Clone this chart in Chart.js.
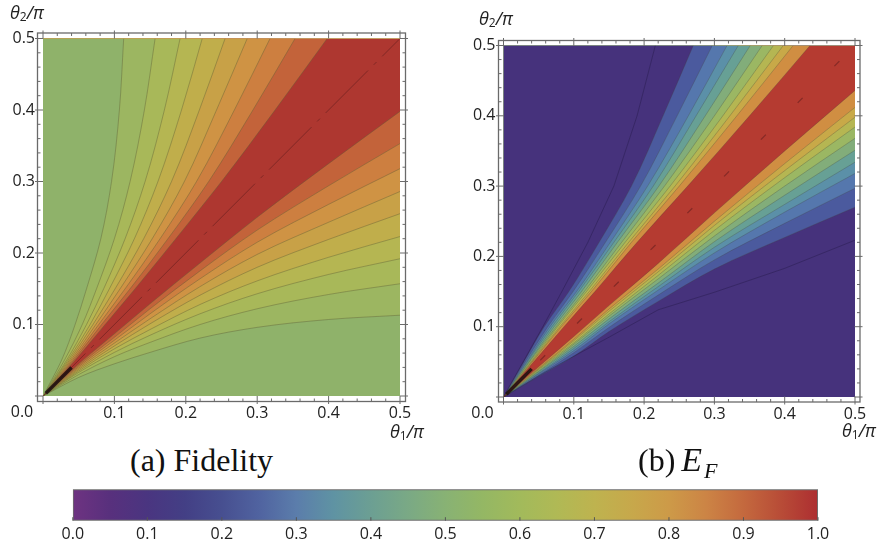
<!DOCTYPE html>
<html>
<head>
<meta charset="utf-8">
<script src="https://cdn.jsdelivr.net/npm/chart.js@4.4.1/dist/chart.umd.min.js"></script>
<style>
  body { margin: 0; background: #fff; }
  #page { position: relative; width: 881px; height: 546px; overflow: hidden; }
  canvas { position: absolute; }
  .ax { position: absolute; font: italic 18px "Open Sans"; line-height: 18px; color: #222; white-space: nowrap; }
  .ax sub { font-style: normal; font-size: 12px; vertical-align: -2px; line-height: 0; }
  .cap { position: absolute; font: 32px "Liberation Serif"; line-height: 32px; color: #111; white-space: nowrap; }
  .cap i { margin-left: 6px; font-size: 34px; }
  .cap sub { font-size: 22px; vertical-align: -7px; line-height: 0; font-style: italic; margin-left: 2px; }
</style>
</head>
<body>
<div id="page">
  <canvas id="fid" width="440" height="425" style="left:0px;top:0px"></canvas>
  <canvas id="ent" width="441" height="425" style="left:440px;top:0px"></canvas>
  <canvas id="bar" width="881" height="66" style="left:0px;top:480px"></canvas>
  <div class="ax" style="left:10px;top:3px">θ<sub>2</sub>/π</div>
  <div class="ax" style="left:390px;top:422px">θ<sub>1</sub>/π</div>
  <div class="ax" style="left:479px;top:9px">θ<sub>2</sub>/π</div>
  <div class="ax" style="left:842px;top:421px">θ<sub>1</sub>/π</div>
  <div class="cap" style="left:130px;top:444px">(a) Fidelity</div>
  <div class="cap" style="left:638px;top:444px">(b)<i>E</i><sub>F</sub></div>
</div>
<script>
// heights (upper-left contours) / widths (lower-right contours) where the contours are read
const steps = [0, 0.05, 0.1, 0.15, 0.22, 0.3, 0.4, 0.5];

// Fidelity: x of each upper-left contour at the heights in steps (outer -> red edge)
const fidUpper = [
  [0, 0.026, 0.045, 0.061, 0.081, 0.096, 0.107, 0.113],
  [0, 0.030, 0.055, 0.075, 0.100, 0.122, 0.142, 0.157],
  [0, 0.033, 0.061, 0.085, 0.115, 0.143, 0.170, 0.192],
  [0, 0.035, 0.066, 0.093, 0.128, 0.161, 0.194, 0.223],
  [0, 0.037, 0.070, 0.101, 0.141, 0.180, 0.219, 0.255],
  [0, 0.039, 0.074, 0.108, 0.153, 0.198, 0.243, 0.286],
  [0, 0.041, 0.078, 0.115, 0.164, 0.215, 0.268, 0.318],
  [0, 0.043, 0.082, 0.122, 0.175, 0.232, 0.294, 0.353],
  [0, 0.045, 0.087, 0.129, 0.186, 0.250, 0.325, 0.398]
];
// Fidelity: y of each lower-right contour at the widths in steps (outer -> red edge)
const fidLower = [
  [0, 0.026, 0.045, 0.061, 0.081, 0.096, 0.107, 0.113],
  [0, 0.030, 0.055, 0.075, 0.100, 0.122, 0.142, 0.157],
  [0, 0.033, 0.061, 0.085, 0.115, 0.143, 0.170, 0.192],
  [0, 0.035, 0.066, 0.093, 0.128, 0.161, 0.194, 0.223],
  [0, 0.037, 0.070, 0.101, 0.141, 0.180, 0.219, 0.255],
  [0, 0.039, 0.074, 0.108, 0.153, 0.198, 0.243, 0.286],
  [0, 0.041, 0.078, 0.115, 0.164, 0.215, 0.268, 0.318],
  [0, 0.043, 0.082, 0.122, 0.175, 0.232, 0.294, 0.353],
  [0, 0.045, 0.087, 0.129, 0.186, 0.250, 0.325, 0.398]
];

// E_F: x of each upper-left contour at the heights in steps (outer -> red edge)
const entUpper = [
  [0, 0.029, 0.058, 0.093, 0.136, 0.182, 0.227, 0.270],
  [0, 0.031, 0.063, 0.099, 0.145, 0.195, 0.247, 0.297],
  [0, 0.033, 0.066, 0.104, 0.152, 0.205, 0.263, 0.318],
  [0, 0.034, 0.069, 0.107, 0.157, 0.213, 0.274, 0.334],
  [0, 0.036, 0.072, 0.111, 0.162, 0.221, 0.287, 0.351],
  [0, 0.037, 0.075, 0.115, 0.168, 0.229, 0.300, 0.368],
  [0, 0.039, 0.077, 0.118, 0.173, 0.237, 0.312, 0.384],
  [0, 0.040, 0.080, 0.122, 0.178, 0.244, 0.322, 0.398],
  [0, 0.041, 0.082, 0.125, 0.182, 0.250, 0.332, 0.412],
  [0, 0.043, 0.086, 0.130, 0.190, 0.262, 0.350, 0.436]
];
// E_F: y of each lower-right contour at the widths in steps (outer -> red edge)
const entLower = [
  [0, 0.029, 0.058, 0.093, 0.136, 0.182, 0.227, 0.270],
  [0, 0.031, 0.063, 0.099, 0.145, 0.195, 0.247, 0.297],
  [0, 0.033, 0.066, 0.104, 0.152, 0.205, 0.263, 0.318],
  [0, 0.034, 0.069, 0.107, 0.157, 0.213, 0.274, 0.334],
  [0, 0.036, 0.072, 0.111, 0.162, 0.221, 0.287, 0.351],
  [0, 0.037, 0.075, 0.115, 0.168, 0.229, 0.300, 0.368],
  [0, 0.039, 0.077, 0.118, 0.173, 0.237, 0.312, 0.384],
  [0, 0.040, 0.080, 0.122, 0.178, 0.244, 0.322, 0.398],
  [0, 0.041, 0.082, 0.125, 0.182, 0.250, 0.332, 0.412],
  [0, 0.043, 0.086, 0.130, 0.190, 0.262, 0.350, 0.436]
];
// E_F: faint lowest-level contour in the dark region
const entFaintUpper = [0, 0.028, 0.056, 0.083, 0.120, 0.157, 0.190, 0.216];
const entFaintLower = [0, 0.030, 0.058, 0.085, 0.124, 0.149, 0.183, 0.223];

const diagonal = [0, 0.5];
const originStreak = [0.004, 0.04];

const panelXTicks = [0, 0.1, 0.2, 0.3, 0.4, 0.5];
const panelYTicks = [0.1, 0.2, 0.3, 0.4, 0.5];
const barTicks = [0, 0.1, 0.2, 0.3, 0.4, 0.5, 0.6, 0.7, 0.8, 0.9, 1.0];
const barStops = [0, 0.05, 0.1, 0.15, 0.2, 0.25, 0.3, 0.35, 0.4, 0.45, 0.5,
                  0.55, 0.6, 0.65, 0.7, 0.75, 0.8, 0.85, 0.9, 0.95, 1.0];

// colours
const barColors = ['#6e3381', '#58307d', '#4a3580', '#433f85', '#474f90', '#5063a0', '#5b7dab',
  '#5f93a3', '#6c9f93', '#7aa985', '#88b274', '#94b764', '#a2ba5b', '#b0b955', '#beb34f',
  '#c7a84b', '#cd9a48', '#cc8445', '#c4693e', '#b84c37', '#ad2e31'];
const fidBands = ['#8fb26a', '#9cb661', '#a8b859', '#b5b652', '#c0ae4b', '#c8a147',
  '#cf9344', '#cd7f40', '#c3633a', '#ae3730'];
const entBands = ['#46327c', '#4b5a9e', '#5577ad', '#5b90a8', '#67a095', '#82ad7a',
  '#9bb763', '#b5b652', '#c8a948', '#d08e42', '#b53b31'];

const FONT = { family: 'Open Sans', size: 16 };

const framePlugin = {
  id: 'frame',
  beforeDatasetsDraw(chart, args, opts) {
    const a = chart.chartArea, c = chart.ctx;
    c.save();
    c.fillStyle = opts.background;
    c.fillRect(a.left, a.top, a.right - a.left, a.bottom - a.top);
    c.restore();
  },
  afterDraw(chart, args, opts) {
    const { ctx: c, chartArea: a, scales: { x, y } } = chart;
    const g = opts.gap;
    const L = a.left - g, R = a.right + g, T = a.top - g, B = a.bottom + g;
    c.save();
    c.strokeStyle = '#6a6a6a';
    c.lineWidth = 1.3;
    c.strokeRect(L, T, R - L, B - T);
    c.lineWidth = 1;
    c.beginPath();
    for (let i = 0; i <= 25; i++) {
      const v = i * 0.02, major = i % 5 === 0, len = major ? 5.5 : 3;
      const px = x.getPixelForValue(v), py = y.getPixelForValue(v);
      const out = major ? 2.5 : 0;
      c.moveTo(px, B + out); c.lineTo(px, B - len);
      c.moveTo(px, T - out); c.lineTo(px, T + len);
      c.moveTo(L - out, py); c.lineTo(L + len, py);
      c.moveTo(R + out, py); c.lineTo(R - len, py);
    }
    c.stroke();
    c.fillStyle = '#222';
    c.font = '16px "Open Sans"';
    c.textAlign = 'center';
    c.textBaseline = 'top';
    c.fillText('0.0', x.getPixelForValue(0) - opts.zeroShift, a.bottom + 8);
    c.restore();
  }
};

function panelChart(id, o) {
  const ds = [];
  const n = o.lower.length;
  const total = 2 * n + 6;
  let draw = 0;
  const line = (data, extra) => Object.assign({
    data, pointRadius: 0, borderWidth: 1, borderColor: o.lineColor,
    cubicInterpolationMode: 'monotone', order: total - draw++
  }, extra);

  // lower-right contours, each painting the region above it
  o.lower.forEach((row, k) => ds.push(line(steps.map((x, i) => ({ x, y: row[i] })),
    { fill: { value: 0.5 }, backgroundColor: o.bands[k + 1] })));
  // upper-left contours, each painting the region left of it
  for (let k = n - 1; k >= 0; k--) {
    ds.push(line(steps.map((y, i) => ({ x: o.upper[k][i], y })),
      { indexAxis: 'y', fill: { value: 0 }, backgroundColor: o.bands[k] }));
  }
  (o.extra || []).forEach(e => ds.push(line(e.data, e.style)));

  return new Chart(document.getElementById(id), {
    type: 'line',
    data: { datasets: ds },
    options: {
      responsive: false, animation: false, events: [],
      layout: { padding: o.padding },
      plugins: {
        legend: { display: false }, tooltip: { enabled: false },
        frame: { background: o.bands[0], gap: o.gap, zeroShift: o.zeroShift }
      },
      scales: {
        x: {
          type: 'linear', min: 0, max: 0.5,
          grid: { display: false, drawTicks: false }, border: { display: false },
          afterBuildTicks: s => { s.ticks = panelXTicks.map(v => ({ value: v })); },
          afterFit: s => { s.height = o.xHeight; },
          ticks: { padding: 8, color: '#222', font: FONT, maxRotation: 0, autoSkip: false,
                   callback: v => v === 0 ? '' : v.toFixed(1) }
        },
        y: {
          type: 'linear', min: 0, max: 0.5,
          grid: { display: false, drawTicks: false }, border: { display: false },
          afterBuildTicks: s => { s.ticks = panelYTicks.map(v => ({ value: v })); },
          afterFit: s => { s.width = 43; },
          ticks: { padding: 8, color: '#222', font: FONT, autoSkip: false,
                   callback: v => v.toFixed(1) }
        }
      }
    },
    plugins: [framePlugin]
  });
}

panelChart('fid', {
  upper: fidUpper, lower: fidLower, bands: fidBands,
  lineColor: 'rgba(95,95,55,0.42)',
  padding: { left: 0, right: 40, top: 38.5, bottom: 0 }, xHeight: 29, gap: 5.5, zeroShift: 21,
  extra: [
    { data: diagonal.map(v => ({ x: v, y: v })),
      style: { borderColor: 'rgba(100,30,30,0.6)', borderWidth: 1, borderDash: [60, 8, 4, 8], cubicInterpolationMode: 'default' } },
    { data: originStreak.map(v => ({ x: v, y: v })),
      style: { borderColor: 'rgba(25,15,15,0.85)', borderWidth: 3.5, cubicInterpolationMode: 'default' } }
  ]
});

panelChart('ent', {
  upper: entUpper, lower: entLower, bands: entBands,
  lineColor: 'rgba(70,70,60,0.28)',
  padding: { left: 20.5, right: 26, top: 45.5, bottom: 0 }, xHeight: 28, gap: 5, zeroShift: 21,
  extra: [
    { data: steps.map((y, i) => ({ x: entFaintUpper[i], y })),
      style: { indexAxis: 'y', borderColor: 'rgba(30,20,60,0.35)', borderWidth: 1, fill: false, cubicInterpolationMode: 'default' } },
    { data: steps.map((x, i) => ({ x, y: entFaintLower[i] })),
      style: { borderColor: 'rgba(30,20,60,0.35)', borderWidth: 1, fill: false, cubicInterpolationMode: 'default' } },
    { data: diagonal.map(v => ({ x: v, y: v })),
      style: { borderColor: 'rgba(100,30,30,0.6)', borderWidth: 1.2, borderDash: [7, 45], cubicInterpolationMode: 'default' } },
    { data: originStreak.map(v => ({ x: v, y: v })),
      style: { borderColor: 'rgba(25,15,15,0.85)', borderWidth: 3.5, cubicInterpolationMode: 'default' } }
  ]
});

const barTickPlugin = {
  id: 'barTicks',
  afterDraw(chart) {
    const { ctx: c, chartArea: a, scales: { x } } = chart;
    c.save();
    c.strokeStyle = '#555';
    c.lineWidth = 1;
    c.beginPath();
    barTicks.forEach(v => {
      const px = x.getPixelForValue(v);
      c.moveTo(px, a.bottom); c.lineTo(px, a.bottom - 3.5);
    });
    c.stroke();
    c.restore();
  }
};

new Chart(document.getElementById('bar'), {
  type: 'bar',
  data: {
    labels: ['value'],
    datasets: [{
      data: [[0, 1]],
      backgroundColor: (ctx) => {
        const a = ctx.chart.chartArea;
        if (!a) return barColors[0];
        const g = ctx.chart.ctx.createLinearGradient(a.left, 0, a.right, 0);
        barStops.forEach((s, i) => g.addColorStop(s, barColors[i]));
        return g;
      },
      borderColor: '#6e6e6e', borderWidth: 1.3, borderSkipped: false,
      barPercentage: 1, categoryPercentage: 1
    }]
  },
  options: {
    indexAxis: 'y', responsive: false, animation: false, events: [],
    layout: { padding: { left: 72.8, right: 63, top: 9.3, bottom: 0 } },
    plugins: { legend: { display: false }, tooltip: { enabled: false } },
    scales: {
      x: {
        type: 'linear', min: 0, max: 1,
        grid: { display: false, drawTicks: false }, border: { display: false },
        afterBuildTicks: s => { s.ticks = barTicks.map(v => ({ value: v })); },
        afterFit: s => { s.height = 25.3; },
        ticks: { padding: 4, color: '#222', font: FONT, maxRotation: 0, autoSkip: false,
                 callback: v => v.toFixed(1) }
      },
      y: { display: false }
    }
  },
  plugins: [barTickPlugin]
});
</script>
</body>
</html>
